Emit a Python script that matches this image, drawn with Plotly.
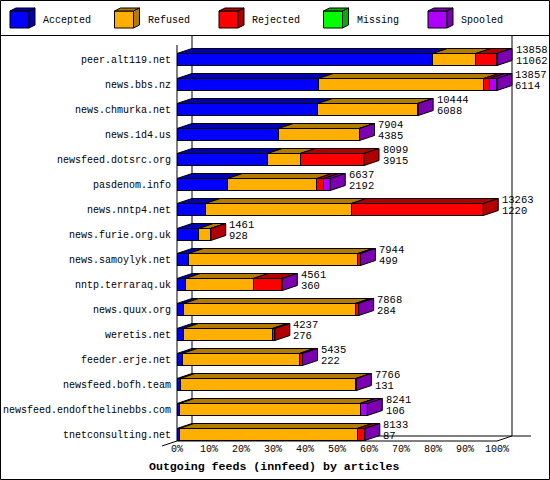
import plotly.graph_objects as go

hosts = ["peer.alt119.net", "news.bbs.nz", "news.chmurka.net", "news.1d4.us",
         "newsfeed.dotsrc.org", "pasdenom.info", "news.nntp4.net", "news.furie.org.uk",
         "news.samoylyk.net", "nntp.terraraq.uk", "news.quux.org", "weretis.net",
         "feeder.erje.net", "newsfeed.bofh.team", "newsfeed.endofthelinebbs.com",
         "tnetconsulting.net"]
offered = [13858, 13857, 10444, 7904, 8099, 6637, 13263, 1461, 7944, 4561, 7868, 4237, 5435, 7766, 8241, 8133]
accepted = [11062, 6114, 6088, 4385, 3915, 2192, 1220, 928, 499, 360, 284, 276, 222, 131, 106, 87]
refused = [1880, 7170, 4340, 3500, 1420, 3866, 6330, 523, 7330, 2940, 7435, 3850, 5072, 7620, 7820, 7715]
rejected = [896, 270, 0, 0, 2764, 300, 5713, 10, 100, 1246, 135, 111, 125, 0, 30, 316]
missing = [0] * 16
spooled = [20, 300, 16, 19, 0, 279, 0, 0, 15, 15, 14, 0, 16, 15, 285, 15]
x_ticks = [0, 10, 20, 30, 40, 50, 60, 70, 80, 90, 100]
x_tick_labels = ["0%", "10%", "20%", "30%", "40%", "50%", "60%", "70%", "80%", "90%", "100%"]
x_title = "Outgoing feeds (innfeed) by articles"

series = [("Accepted", accepted, "#0000FF", "#0000B0"),
          ("Refused", refused, "#FFAF00", "#B37B00"),
          ("Rejected", rejected, "#FF0000", "#B00000"),
          ("Missing", missing, "#00FF00", "#00B000"),
          ("Spooled", spooled, "#AF00FF", "#7A00B0")]

W, H = 550, 480
ML, MR, MT, MB = 177, 1, 47, 39
PW, PH = W - ML - MR, H - MT - MB
PX_PER_PCT = 3.2
XMAX = PW / PX_PER_PCT
ROW_PX = 25.0
Y_TOP = -0.5
Y_BOT = Y_TOP + PH / ROW_PX
BAR_W = 0.48
DXD = 15 / PX_PER_PCT     # depth offset in % units
DYD = 5 / ROW_PX          # depth offset in row units
FONT = "Liberation Mono"

maxv = max(offered)

def pct(v):
    return v / maxv * 100.0

def px_x(p):
    return (p - ML) / PW

def px_y(p):
    return (H - MB - p) / PH

fig = go.Figure()
idx = list(range(len(hosts)))
for name, vals, col, dark in series:
    fig.add_trace(go.Bar(
        y=idx, x=[pct(v) if v > 0 else None for v in vals], orientation="h",
        name=name, marker=dict(color=col, line=dict(color="black", width=1)),
        width=BAR_W, showlegend=False, hoverinfo="skip"))

shapes = []
annotations = []

def poly(points, fill, xref="x", yref="y", layer="above"):
    d = "M " + " L ".join(f"{a},{b}" for a, b in points) + " Z"
    shapes.append(dict(type="path", path=d, xref=xref, yref=yref, fillcolor=fill,
                       line=dict(color="black", width=1), layer=layer))

def line(x0, y0, x1, y1):
    shapes.append(dict(type="line", xref="paper", yref="paper",
                       x0=px_x(x0), y0=px_y(y0), x1=px_x(x1), y1=px_y(y1),
                       line=dict(color="black", width=1), layer="below"))

# frame lines of 3D chart
line(177, 45, 177, 441)
line(192, 36, 192, 436)
line(512, 36, 512, 436)
line(192, 436, 531, 436)
line(177, 441, 497, 441)
line(497, 441, 512, 436)
line(177, 441, 162, 446)
line(0, 35.5, 550, 35.5)
shapes.append(dict(type="rect", xref="paper", yref="paper",
                   x0=px_x(0.5), y0=px_y(0.5), x1=px_x(549.5), y1=px_y(479.5),
                   line=dict(color="black", width=1), layer="below"))

# 3D faces computed from data
for i in idx:
    cum = 0.0
    last_dark = None
    ytop = i - BAR_W / 2
    ybot = i + BAR_W / 2
    for name, vals, col, dark in series:
        v = vals[i]
        if v <= 0:
            continue
        x0, x1 = cum, cum + pct(v)
        poly([(x0, ytop), (x1, ytop), (x1 + DXD, ytop - DYD), (x0 + DXD, ytop - DYD)], dark)
        cum = x1
        last_dark = dark
    poly([(cum, ytop), (cum + DXD, ytop - DYD), (cum + DXD, ybot - DYD), (cum, ybot)], last_dark)
    tx = cum + DXD + 2.5 / PX_PER_PCT
    annotations.append(dict(x=tx, y=i - 9.5 / ROW_PX, xref="x", yref="y", text=str(offered[i]),
                            showarrow=False, xanchor="left", yanchor="middle", borderpad=0,
                            font=dict(family=FONT, size=10.5, color="black")))
    annotations.append(dict(x=tx, y=i + 1.5 / ROW_PX, xref="x", yref="y", text=str(accepted[i]),
                            showarrow=False, xanchor="left", yanchor="middle", borderpad=0,
                            font=dict(family=FONT, size=10.5, color="black")))

# legend drawn as 3D cubes
for k, (name, vals, col, dark) in enumerate(series):
    bx = 10 + 104.5 * k
    poly([(px_x(bx), px_y(11)), (px_x(bx + 19), px_y(11)), (px_x(bx + 19), px_y(28)), (px_x(bx), px_y(28))],
         col, "paper", "paper")
    poly([(px_x(bx), px_y(11)), (px_x(bx + 6), px_y(8)), (px_x(bx + 25), px_y(8)), (px_x(bx + 19), px_y(11))],
         dark, "paper", "paper")
    poly([(px_x(bx + 19), px_y(11)), (px_x(bx + 25), px_y(8)), (px_x(bx + 25), px_y(25)), (px_x(bx + 19), px_y(28))],
         dark, "paper", "paper")
    annotations.append(dict(x=px_x(bx + 31), y=px_y(20), xref="paper", yref="paper", text=name,
                            showarrow=False, xanchor="left", yanchor="middle",
                            font=dict(family=FONT, size=10, color="black")))

annotations.append(dict(x=px_x(274), y=px_y(466), xref="paper", yref="paper",
                        text="<b>" + x_title + "</b>", showarrow=False,
                        xanchor="center", yanchor="middle",
                        font=dict(family=FONT, size=11.6, color="black")))

fig.update_layout(
    width=W, height=H, margin=dict(l=ML, r=MR, t=MT, b=MB, pad=0),
    paper_bgcolor="white", plot_bgcolor="white", barmode="stack",
    shapes=shapes, annotations=annotations, showlegend=False,
    font=dict(family=FONT, size=10, color="black"),
    xaxis=dict(range=[0, XMAX], tickvals=x_ticks, ticktext=x_tick_labels,
               showgrid=False, zeroline=False, showline=False, ticks="",
               tickfont=dict(family=FONT, size=10, color="black")),
    yaxis=dict(range=[Y_BOT, Y_TOP], tickvals=idx, ticktext=hosts,
               showgrid=False, zeroline=False, showline=False,
               ticks="outside", ticklen=3, tickcolor="rgba(0,0,0,0)",
               tickfont=dict(family=FONT, size=10, color="black")),
)

fig.write_html("out.html", config={"displayModeBar": False, "staticPlot": True},
               post_script="document.body.style.margin='0';document.body.style.overflow='hidden';")
